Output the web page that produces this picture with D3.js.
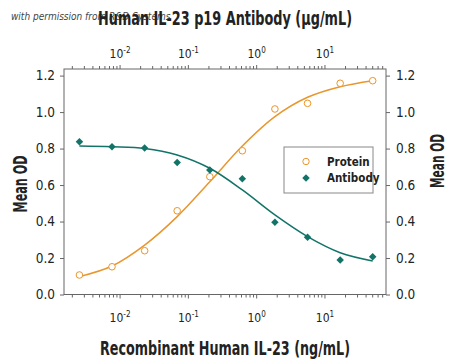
<!DOCTYPE html>
<html>
<head>
<meta charset="utf-8">
<script src="https://cdn.jsdelivr.net/npm/d3@7"></script>
<style>
  body { margin: 0; background: #fff; }
  svg { display: block; }
  text { font-family: "DejaVu Sans Condensed", "Liberation Sans Narrow", "Arial Narrow", sans-serif; font-stretch: condensed; fill: #222; }
</style>
</head>
<body>
<div id="chart"></div>
<script>
// concentrations, 3-fold dilution (ng/mL on bottom axis, ug/mL on top axis)
const concentrations = [0.00254, 0.00762, 0.0229, 0.0686, 0.206, 0.617, 1.85, 5.56, 16.7, 50]
const proteinOD = [0.107, 0.152, 0.240, 0.459, 0.646, 0.788, 1.017, 1.048, 1.158, 1.172]
const antibodyOD = [0.838, 0.810, 0.803, 0.723, 0.683, 0.635, 0.396, 0.314, 0.189, 0.207]
// fitted curves at the same concentrations
const proteinFit = [0.098, 0.156, 0.271, 0.427, 0.618, 0.814, 0.975, 1.081, 1.139, 1.172]
const antibodyFit = [0.814, 0.810, 0.801, 0.765, 0.692, 0.573, 0.436, 0.317, 0.229, 0.184]
const yTicks = [0, 0.2, 0.4, 0.6, 0.8, 1.0, 1.2]
const xTickExponents = [-2, -1, 0, 1]
const seriesNames = ['Protein', 'Antibody']

const width = 450
const height = 362
const margin = { top: 69, right: 64, bottom: 67.5, left: 64 }
const innerW = width - margin.left - margin.right
const innerH = height - margin.top - margin.bottom

const orange = '#e9962c'
const teal = '#127368'
const axisColor = '#666'

const svg = d3.select('#chart').append('svg')
  .attr('width', width)
  .attr('height', height)

const x = d3.scaleLog().domain([0.00151, 78.3]).range([0, innerW])
const y = d3.scaleLinear().domain([0, 1.2 * innerH / 218.9]).range([innerH, 0])

const g = svg.append('g')
  .attr('transform', 'translate(' + margin.left + ',' + margin.top + ')')

// frame
g.append('rect')
  .attr('width', innerW).attr('height', innerH)
  .attr('fill', 'none').attr('stroke', axisColor).attr('stroke-width', 1)

// minor + major log ticks on top and bottom
const logTicks = []
for (let e = -3; e <= 1; e++) {
  for (let m = 1; m <= 9; m++) {
    const v = m * Math.pow(10, e)
    if (v >= x.domain()[0] && v <= x.domain()[1]) logTicks.push({ v, major: m === 1 })
  }
}
g.selectAll('.tick-bottom').data(logTicks).join('line')
  .attr('x1', d => x(d.v)).attr('x2', d => x(d.v))
  .attr('y1', innerH).attr('y2', d => innerH + (d.major ? 4 : 3))
  .attr('stroke', axisColor)
g.selectAll('.tick-top').data(logTicks).join('line')
  .attr('x1', d => x(d.v)).attr('x2', d => x(d.v))
  .attr('y1', 0).attr('y2', d => -(d.major ? 4 : 3))
  .attr('stroke', axisColor)

// power-of-ten labels
function powerLabel (sel, yPos) {
  const t = sel.selectAll(null).data(xTickExponents).join('text')
    .attr('x', d => x(Math.pow(10, d)))
    .attr('y', yPos)
    .attr('text-anchor', 'middle')
    .attr('font-size', 12)
  t.append('tspan').text('10')
  t.append('tspan').text(d => d < 0 ? '-' + Math.abs(d) : d)
    .attr('dy', -5).attr('font-size', 8)
}
powerLabel(g, innerH + 27)
powerLabel(g, -11)

// y axes, left and right
g.append('g')
  .call(d3.axisLeft(y).tickValues(yTicks).tickSize(4).tickFormat(d3.format('.1f')))
  .call(a => a.select('.domain').remove())
  .call(a => a.selectAll('line').attr('stroke', axisColor))
  .call(a => a.selectAll('text').attr('font-size', 13.5).attr('font-family', null).attr('x', -9))
g.append('g')
  .attr('transform', 'translate(' + innerW + ',0)')
  .call(d3.axisRight(y).tickValues(yTicks).tickSize(4).tickFormat(d3.format('.1f')))
  .call(a => a.select('.domain').remove())
  .call(a => a.selectAll('line').attr('stroke', axisColor))
  .call(a => a.selectAll('text').attr('font-size', 13.5).attr('font-family', null).attr('x', 10))

// fitted curves
const line = d3.line()
  .x((d, i) => x(concentrations[i]))
  .y(d => y(d))
  .curve(d3.curveCatmullRom)
g.append('path').datum(proteinFit)
  .attr('d', line).attr('fill', 'none').attr('stroke', orange).attr('stroke-width', 1.5)
g.append('path').datum(antibodyFit)
  .attr('d', line).attr('fill', 'none').attr('stroke', teal).attr('stroke-width', 1.5)

// points
g.selectAll('.protein').data(proteinOD).join('circle')
  .attr('cx', (d, i) => x(concentrations[i]))
  .attr('cy', d => y(d))
  .attr('r', 3.3)
  .attr('fill', '#fff').attr('stroke', orange).attr('stroke-width', 1)
const diamond = d3.symbol().type(d3.symbolSquare).size(28)
g.selectAll('.antibody').data(antibodyOD).join('path')
  .attr('d', diamond)
  .attr('transform', (d, i) => 'translate(' + x(concentrations[i]) + ',' + y(d) + ') rotate(45)')
  .attr('fill', teal)

// legend
const legend = g.append('g').attr('transform', 'translate(' + (284 - margin.left) + ',' + (147 - margin.top) + ')')
legend.append('rect')
  .attr('width', 89).attr('height', 46)
  .attr('fill', '#fff').attr('stroke', '#888')
seriesNames.forEach((name, i) => {
  const ly = 14.5 + i * 16.5
  if (i === 0) {
    legend.append('circle').attr('cx', 22).attr('cy', ly).attr('r', 3.2)
      .attr('fill', '#fff').attr('stroke', orange)
  } else {
    legend.append('path').attr('d', diamond).attr('transform', 'translate(22,' + ly + ') rotate(45)').attr('fill', teal)
  }
  legend.append('text').text(name)
    .attr('x', 43).attr('y', ly + 4)
    .attr('font-size', 11.5).attr('font-weight', 'bold')
})

// axis titles
function title (txt, tx, ty, len, rot) {
  svg.append('text').text(txt)
    .attr('transform', 'translate(' + tx + ',' + ty + ')' + (rot ? ' rotate(-90)' : ''))
    .attr('text-anchor', 'middle').attr('font-size', 19).attr('font-weight', 'bold')
    .attr('textLength', len).attr('lengthAdjust', 'spacingAndGlyphs')
}
title('Human IL-23 p19 Antibody (\u03bcg/mL)', 225, 25, 254, false)
title('Recombinant Human IL-23 (ng/mL)', 225, 355, 250, false)
title('Mean OD', 27, 184, 57, true)
title('Mean OD', 444, 161, 54, true)

// watermark
svg.append('text').text('with permission from R&D Systems')
  .attr('x', 11).attr('y', 20)
  .attr('font-family', '"DejaVu Serif", serif').attr('font-style', 'italic')
  .attr('font-size', 10).attr('fill', '#555').attr('opacity', 0.85)
</script>
</body>
</html>
